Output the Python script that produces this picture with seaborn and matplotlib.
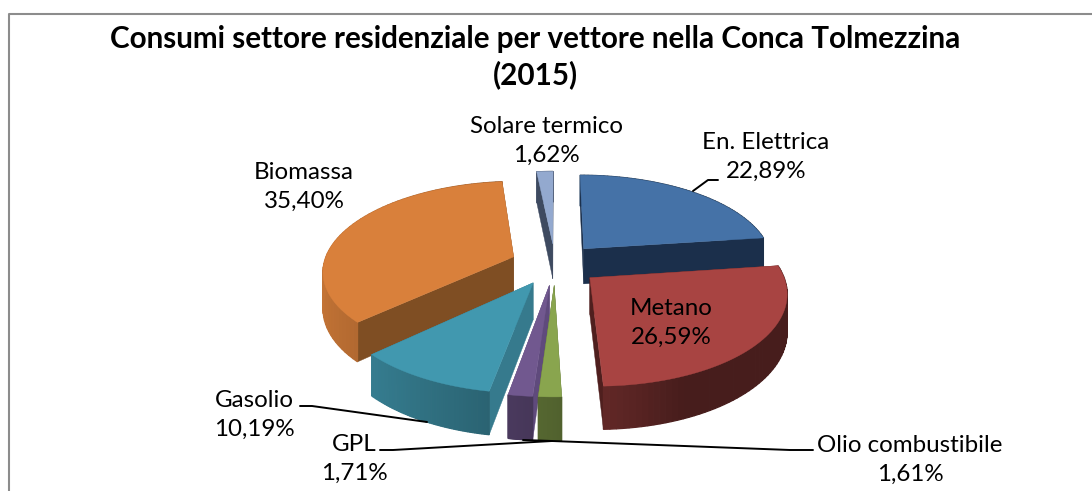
import numpy as np
import matplotlib
matplotlib.use('Agg')
import matplotlib.pyplot as plt
import seaborn as sns

# Values, clockwise from 12 o'clock
vettori = ['En. Elettrica', 'Metano', 'Olio combustibile', 'GPL', 'Gasolio', 'Biomassa', 'Solare termico']
quote = [22.89, 26.59, 1.61, 1.71, 10.19, 35.40, 1.62]
etichette = ['22,89%', '26,59%', '1,61%', '1,71%', '10,19%', '35,40%', '1,62%']
colori = ['#4572a7', '#a84442', '#89a54e', '#71588f', '#4198af', '#d9803b', '#93a9cf']
titolo = 'Consumi settore residenziale per vettore nella Conca Tolmezzina\n(2015)'

# Pixel layout of the fake 3D pie
CX, CY = 555, 264
R = 190
TILT = 0.465
PERSP = 0.145
DEPTH = 36
EXPLODE = 0.235

sns.set_theme(style='white')
plt.rcParams['font.family'] = ['Lato', 'DejaVu Sans']


def proj(X, Z, down=0):
    s = 1 / (1 + PERSP * Z)
    return CX + R * s * X, CY - R * TILT * s * Z + DEPTH * s * down


def shade(colore, f):
    return tuple(c * f for c in matplotlib.colors.to_rgb(colore))


def mid_order(mid):
    # back slices first
    return 2 - np.cos(mid)


def draw_strips(ax, t, ox, oz, colore, zorder, front):
    # outer wall in small strips, lighter on the left like the original
    X, Z = ox + np.sin(t), oz + np.cos(t)
    for i in range(len(t) - 1):
        a = (t[i] + t[i + 1]) / 2
        if (np.cos(a) <= 0) != front:
            continue
        xs, zs = X[i:i + 2], Z[i:i + 2]
        x0, y0 = proj(xs, zs)
        x1, y1 = proj(xs, zs, 1)
        lato = np.sin(a)
        f = 0.6 - 0.3 * lato if lato < 0 else max(0.42, 0.6 - 0.45 * lato)
        ax.fill(np.r_[x0, x1[::-1]], np.r_[y0, y1[::-1]], color=shade(colore, f), lw=0.9, zorder=zorder)


def draw_slice(ax, start, end, colore, scuro):
    mid = (start + end) / 2
    ox, oz = EXPLODE * np.sin(mid), EXPLODE * np.cos(mid)
    t = np.linspace(start, end, 60)
    zo = mid_order(mid)

    # hidden part of the wall, then cut faces, then the part facing us, then the top
    draw_strips(ax, t, ox, oz, colore, zo, False)
    for a in (start, end):
        xs = np.array([ox, ox + np.sin(a)])
        zs = np.array([oz, oz + np.cos(a)])
        x0, y0 = proj(xs, zs)
        x1, y1 = proj(xs, zs, 1)
        ax.fill(np.r_[x0, x1[::-1]], np.r_[y0, y1[::-1]], color=scuro, lw=0.3, zorder=zo)
    draw_strips(ax, t, ox, oz, colore, zo, True)

    x0, y0 = proj(np.r_[ox, ox + np.sin(t)], np.r_[oz, oz + np.cos(t)])
    ax.fill(x0, y0, color=colore, lw=0.3, zorder=zo + 0.5)


fig = plt.figure(figsize=(10.92, 4.91), dpi=100)
ax = fig.add_axes([0, 0, 1, 1])
ax.set_xlim(0, 1092)
ax.set_ylim(491, 0)
ax.axis('off')

angoli = np.r_[0, np.cumsum(quote)] / sum(quote) * 2 * np.pi
scuri = ['#1b2f4b', '#4f1f1e', '#50602d', '#5f4a7c', '#367a8d', '#7f4e23', '#3e4a60']
for i in range(len(quote)):
    draw_slice(ax, angoli[i], angoli[i + 1], colori[i], scuri[i])

# chart frame, cut by the picture on the right and at the bottom
ax.plot([9, 9, 1092], [491, 14, 14], color='#8c8c8c', lw=1.5, zorder=1)

ax.text(535, 57, titolo, ha='center', va='center', fontsize=21.3, fontweight='bold', color='black', linespacing=1.3, zorder=6)

posizioni = [(766, 157), (671, 323), (910, 460), (354, 459), (254, 415), (304, 187), (546, 141)]
for nome, lab, (x, y) in zip(vettori, etichette, posizioni):
    ax.text(x, y, nome + '\n' + lab, ha='center', va='center', fontsize=17.4, color='black', linespacing=1.5, zorder=6)

# leader lines
linee = [([693, 708, 718], [191, 180, 180]),
         ([300, 312, 427], [406, 406, 422]),
         ([380, 393, 552], [450, 450, 441]),
         ([813, 790, 552, 523], [450, 450, 441, 440])]
for xs, ys in linee:
    ax.plot(xs, ys, color='black', lw=1.4, zorder=5)

fig.savefig('out.png', dpi=100, facecolor='white')
